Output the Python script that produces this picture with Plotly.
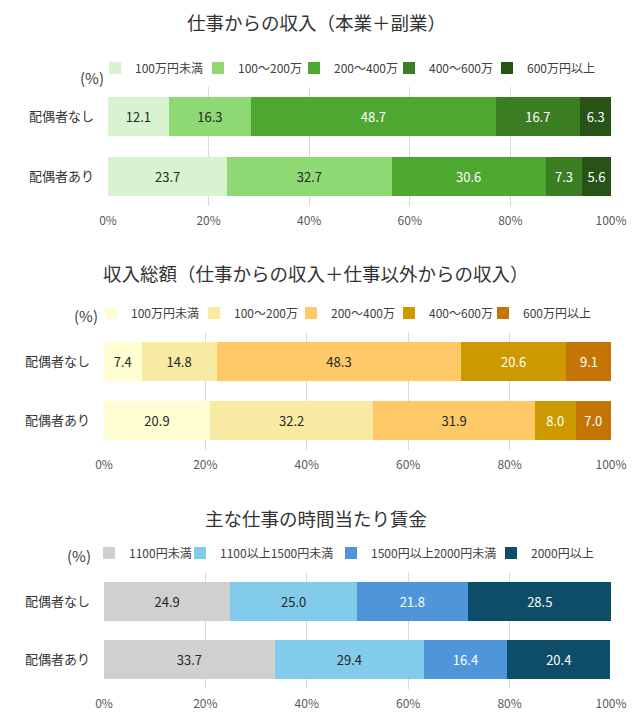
import plotly.graph_objects as go

W, H = 643, 718
FONT = "Noto Sans CJK JP"

groups = ["配偶者なし", "配偶者あり"]

# Chart 1: 仕事からの収入（本業＋副業）
work_labels = ["100万円未満", "100～200万", "200～400万", "400～600万", "600万円以上"]
work_none = [12.1, 16.3, 48.7, 16.7, 6.3]
work_with = [23.7, 32.7, 30.6, 7.3, 5.6]
work_colors = ["#d9f2d0", "#8ed973", "#4ea72e", "#3b7d23", "#275317"]
work_text = ["#262626", "#262626", "#ffffff", "#ffffff", "#ffffff"]

# Chart 2: 収入総額
total_labels = ["100万円未満", "100～200万", "200～400万", "400～600万", "600万円以上"]
total_none = [7.4, 14.8, 48.3, 20.6, 9.1]
total_with = [20.9, 32.2, 31.9, 8.0, 7.0]
total_colors = ["#fefed2", "#f9eaa4", "#fec966", "#cc9900", "#c57506"]
total_text = ["#262626", "#262626", "#262626", "#ffffff", "#ffffff"]

# Chart 3: 主な仕事の時間当たり賃金
wage_labels = ["1100円未満", "1100以上1500円未満", "1500円以上2000円未満", "2000円以上"]
wage_none = [24.9, 25.0, 21.8, 28.5]
wage_with = [33.7, 29.4, 16.4, 20.4]
wage_colors = ["#d0d0d0", "#83cbeb", "#4e95d9", "#0e4d68"]
wage_text = ["#262626", "#262626", "#ffffff", "#ffffff"]

titles = ["仕事からの収入（本業＋副業）",
          "収入総額（仕事からの収入＋仕事以外からの収入）",
          "主な仕事の時間当たり賃金"]
x_ticks = [0, 20, 40, 60, 80, 100]
x_ticktext = ["0%", "20%", "40%", "60%", "80%", "100%"]

charts = [
    (work_labels, work_none, work_with, work_colors, work_text),
    (total_labels, total_none, total_with, total_colors, total_text),
    (wage_labels, wage_none, wage_with, wage_colors, wage_text),
]

# layout geometry (pixels)
x_dom_px = [(108, 611), (104, 611), (104, 611)]
y_dom_px = [(87, 206), (332, 450), (572, 689)]
title_y = [22, 273, 518]
legend_y = [68, 313, 553]
# left x of each legend entry's text
legend_text_x = [
    [131, 234, 330, 425, 523],
    [127, 230, 327, 425, 519],
    [125, 216, 367, 527],
]
pct_pos = [(92, 77), (86, 315), (79, 555)]
LEG_TEXT_OFFSET = 41 - 5  # text offset inside a legend box, nudged right a bit

def py(p):
    return 1 - p / H

def px(p):
    return p / W

fig = go.Figure()
layout = dict(
    width=W, height=H, autosize=False,
    margin=dict(l=0, r=0, t=0, b=0, autoexpand=False),
    paper_bgcolor="white", plot_bgcolor="white",
    barmode="stack", bargap=0.34,
    font=dict(family=FONT, color="#333333"),
    uniformtext=dict(mode="show", minsize=13),
    showlegend=True,
    annotations=[],
)

leg_count = 0
for i, (labels, v_none, v_with, colors, tcols) in enumerate(charts):
    n = i + 1
    xa = "x" if n == 1 else f"x{n}"
    ya = "y" if n == 1 else f"y{n}"
    for j, lab in enumerate(labels):
        leg_count += 1
        lg = "legend" if leg_count == 1 else f"legend{leg_count}"
        fig.add_trace(go.Bar(
            x=[v_none[j], v_with[j]], y=groups, orientation="h",
            name=lab, marker=dict(color=colors[j], line=dict(width=0)),
            texttemplate="%{x:.1f}", textposition="inside",
            insidetextanchor="middle", textangle=0, constraintext="none",
            textfont=dict(family=FONT, size=13, color=tcols[j]),
            xaxis=xa, yaxis=ya, legend=lg, hoverinfo="skip",
        ))
        layout[lg] = dict(
            orientation="h", x=px(legend_text_x[i][j] - LEG_TEXT_OFFSET), xanchor="left",
            y=py(legend_y[i]), yanchor="middle", itemwidth=30,
            font=dict(family=FONT, size=12, color="#404040"),
            bgcolor="rgba(0,0,0,0)", itemclick=False,
        )
    xk = "xaxis" if n == 1 else f"xaxis{n}"
    yk = "yaxis" if n == 1 else f"yaxis{n}"
    layout[xk] = dict(
        domain=[px(x_dom_px[i][0]), px(x_dom_px[i][1])], anchor=ya,
        range=[0, 100], tickmode="array", tickvals=x_ticks, ticktext=x_ticktext,
        showgrid=True, gridcolor="#d9d9d9", gridwidth=1, zeroline=False,
        showline=False, ticks="", ticklabelstandoff=6, automargin=False,
        tickfont=dict(family=FONT, size=12, color="#595959"),
        fixedrange=True,
    )
    layout[yk] = dict(
        domain=[py(y_dom_px[i][1]), py(y_dom_px[i][0])], anchor=xa,
        type="category", categoryorder="array", categoryarray=groups,
        autorange="reversed", showgrid=False, zeroline=False, showline=False,
        ticks="", ticklabelstandoff=13, automargin=False,
        tickfont=dict(family=FONT, size=13, color="#333333"),
        fixedrange=True,
    )
    layout["annotations"].append(dict(
        text=titles[i], x=px(316), y=py(title_y[i]), xref="paper", yref="paper",
        xanchor="center", yanchor="middle", showarrow=False,
        font=dict(family=FONT, size=18.5, color="#333333"),
    ))
    layout["annotations"].append(dict(
        text="(%)", x=px(pct_pos[i][0]), y=py(pct_pos[i][1]), xref="paper", yref="paper",
        xanchor="center", yanchor="middle", showarrow=False,
        font=dict(family=FONT, size=15, color="#404040"),
    ))

fig.update_layout(**layout)
fig.write_html("out.html")
